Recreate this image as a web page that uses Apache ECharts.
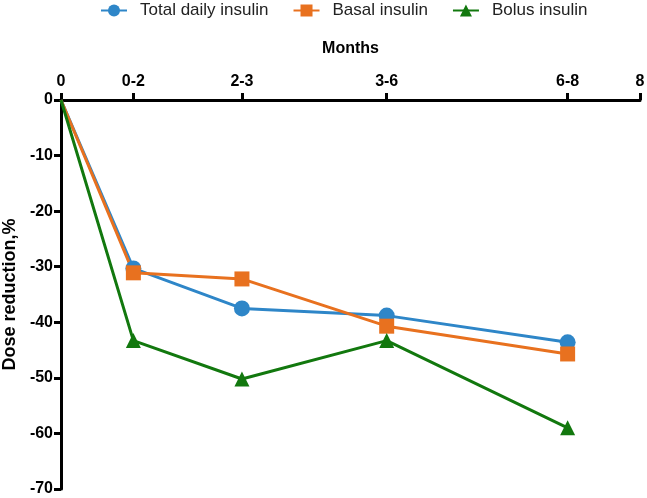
<!DOCTYPE html>
<html>
<head>
<meta charset="utf-8">
<script src="https://cdn.jsdelivr.net/npm/echarts@6/dist/echarts.min.js"></script>
<style>html,body{margin:0;padding:0;background:#fff}#c{width:647px;height:498px}</style>
</head>
<body>
<div id="c"></div>
<script>
const monthPositions = [0, 1, 2.5, 4.5, 7];
const tickValues = [0, 1, 2.5, 4.5, 7, 8];
const tickLabels = ['0', '0-2', '2-3', '3-6', '6-8', '8'];
const totalDaily = [0, -30.3, -37.5, -38.8, -43.6];
const basal = [0, -31.1, -32.2, -40.7, -45.7];
const bolus = [0, -43.3, -50.2, -43.3, -59.0];

const FONT = '"Liberation Sans", Arial, sans-serif';
const chart = echarts.init(document.getElementById('c'));
const pair = arr => arr.map((v, i) => i === 0
  ? { value: [monthPositions[i], v], symbol: 'none' }
  : [monthPositions[i], v]);
const mk = (name, data, color, symbol, size) => ({
  name, type: 'line', data: pair(data), symbol, symbolSize: size,
  lineStyle: { color, width: 3 }, itemStyle: { color },
  emphasis: { disabled: true }
});
chart.setOption({
  animation: false,
  textStyle: { fontFamily: FONT },
  legend: {
    top: -3, left: 95, itemWidth: 26, itemHeight: 15, itemGap: 24,
    textStyle: { fontFamily: FONT, fontSize: 17, color: '#222', padding: [0, 0, 0, 8] }
  },
  grid: { left: 61, right: 7, top: 100, bottom: 9, containLabel: false, outerBoundsMode: 'none' },
  xAxis: {
    type: 'value', position: 'top', min: 0, max: 8,
    name: 'Months', nameLocation: 'middle', nameGap: 43,
    nameTextStyle: { fontFamily: FONT, fontWeight: 'bold', fontSize: 16, color: '#000' },
    axisLine: { show: true, lineStyle: { color: '#000', width: 3 } },
    axisTick: { show: true, length: 7, lineStyle: { color: '#000', width: 3 }, customValues: tickValues },
    axisLabel: {
      customValues: tickValues, margin: 10,
      fontFamily: FONT, fontWeight: 'bold', fontSize: 16, color: '#000',
      formatter: v => { const i = tickValues.indexOf(v); return i >= 0 ? tickLabels[i] : ''; }
    },
    splitLine: { show: false }
  },
  yAxis: {
    type: 'value', min: -70, max: 0, interval: 10,
    name: 'Dose reduction,%', nameLocation: 'middle', nameGap: 42,
    nameTextStyle: { fontFamily: FONT, fontWeight: 'bold', fontSize: 18, color: '#000' },
    axisLine: { show: true, lineStyle: { color: '#000', width: 3 } },
    axisTick: { show: true, length: 7, lineStyle: { color: '#000', width: 3 } },
    axisLabel: { fontFamily: FONT, fontWeight: 'bold', fontSize: 16, color: '#000', margin: 8 },
    splitLine: { show: false }
  },
  series: [
    mk('Total daily insulin', totalDaily, '#2e86c8', 'circle', 16),
    mk('Basal insulin', basal, '#e8711f', 'rect', 15),
    mk('Bolus insulin', bolus, '#12780e', 'triangle', 15)
  ]
});
</script>
</body>
</html>
